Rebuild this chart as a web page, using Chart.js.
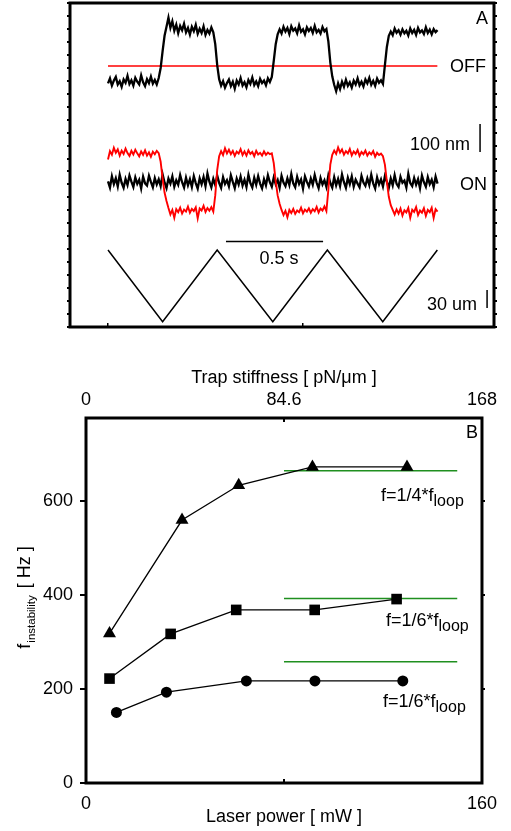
<!DOCTYPE html>
<html>
<head>
<meta charset="utf-8">
<title>Feedback instability</title>
<script src="https://cdn.jsdelivr.net/npm/chart.js@4.4.1/dist/chart.umd.min.js"></script>
<style>
  html, body { margin: 0; padding: 0; background: #fff; }
  #wrap { position: relative; width: 511px; height: 831px; }
  #traces { position: absolute; left: 0; top: 0; }
  #stiffness { position: absolute; left: 0; top: 335px; }
</style>
</head>
<body>
<div id="wrap">
  <canvas id="traces" width="511" height="335"></canvas>
  <canvas id="stiffness" width="511" height="496"></canvas>
</div>
<script>
// ---------- panel A : bead traces (nm), one sample every 10 ms ----------
const SAMPLE_STEP = 0.01; // s

// feedback OFF, bead follows the stage
const offTrace = [
  870, 888, 862, 880, 893, 866, 878, 858, 884, 872,
  897, 868, 881, 862, 890, 876, 866, 899, 874, 860,
  885, 871, 894, 869, 882, 866, 889, 925, 985, 1040,
  1072, 1105, 1068, 1092, 1058, 1080, 1049, 1075, 1060, 1083,
  1052, 1068, 1044, 1072, 1056, 1079, 1047, 1065, 1050, 1074,
  1043, 1061, 1048, 1070, 1052, 1010, 935, 885, 862, 878,
  855, 871, 884, 860, 876, 851, 880, 866, 889, 862,
  874, 856, 882, 868, 891, 864, 877, 860, 886, 871,
  880, 863, 888, 875, 893, 950, 1010, 1045, 1063, 1048,
  1072, 1055, 1068, 1046, 1074, 1058, 1066, 1049, 1077, 1054,
  1063, 1045, 1070, 1057, 1068, 1050, 1075, 1052, 1061, 1048,
  1071, 1056, 1064, 1020, 945, 895, 865, 842, 870, 850,
  876, 858, 883, 861, 874, 855, 880, 866, 888, 863,
  876, 859, 884, 870, 890, 865, 879, 861, 887, 872,
  881, 868, 935, 1000, 1040, 1055, 1042, 1066, 1051, 1060,
  1044, 1063, 1049, 1058, 1041, 1066, 1050, 1061, 1043, 1068,
  1052, 1059, 1046, 1070, 1050, 1062, 1045, 1064, 1053, 1060
];
const offRefTimes = [0, 1.689];
const offRef = [932, 932];

// feedback ON: bead (black) and correction signal (red)
const onTrace = [
  520, 498, 538, 510, 531, 502, 544, 515, 497, 529,
  507, 541, 519, 500, 534, 511, 526, 495, 537, 513,
  505, 540, 518, 499, 532, 509, 527, 503, 545, 516,
  496, 530, 512, 538, 501, 524, 508, 543, 517, 498,
  533, 506, 528, 500, 539, 514, 494, 531, 510, 536,
  503, 548, 519, 499, 529, 507, 541, 515, 497, 535,
  511, 524, 502, 542, 518, 496, 530, 509, 537, 505,
  526, 500, 544, 514, 498, 533, 508, 539, 512, 495,
  528, 506, 542, 517, 501, 534, 510, 525, 497, 540,
  516, 503, 531, 507, 546, 513, 499, 536, 511, 527,
  494, 538, 518, 502, 530, 508, 543, 515, 496, 532,
  509, 524, 500, 541, 514, 498, 535, 506, 529, 503,
  545, 517, 497, 533, 510, 538, 501, 526, 512, 499,
  540, 516, 504, 531, 507, 544, 513, 495, 534, 509,
  527, 502, 539, 518, 497, 530, 506, 542, 511, 500,
  536, 515, 523, 498, 547, 514, 503, 532, 508, 528,
  496, 541, 517, 501, 535, 510, 526, 499, 537, 512
];
const onSignal = [
  598, 628, 615, 640, 622, 634, 612, 630, 618, 637,
  621, 611, 629, 616, 633, 620, 609, 627, 615, 631,
  612, 624, 608, 626, 617, 629, 621, 590, 530, 480,
  450, 425, 402, 418, 390, 421, 410, 426, 405, 419,
  412, 430, 408, 422, 414, 427, 388, 423, 416, 433,
  411, 425, 415, 428, 412, 470, 560, 610, 628, 614,
  638, 620, 633, 617, 629, 611, 626, 619, 635, 614,
  627, 612, 631, 618, 625, 610, 629, 616, 622, 612,
  627, 615, 623, 617, 620, 585, 520, 470, 440, 418,
  400, 415, 392, 418, 407, 422, 404, 416, 410, 426,
  406, 419, 412, 424, 408, 421, 413, 429, 409, 423,
  416, 431, 414, 490, 580, 615, 630, 618, 641, 623,
  634, 615, 628, 620, 636, 613, 627, 618, 632, 611,
  625, 617, 630, 612, 624, 616, 628, 608, 622, 614,
  619, 610, 580, 520, 465, 435, 418, 402, 420, 405,
  423, 398, 417, 409, 425, 390, 419, 411, 428, 400,
  416, 408, 424, 397, 418, 410, 426, 389, 421, 412
];

// stage drive (triangle wave)
const stageTimes = [0, 0.28, 0.56, 0.845, 1.125, 1.409, 1.689];
const stagePos = [275, 19, 275, 19, 275, 19, 275];

// scale bars
const timeBarT = [0.605, 1.103];
const timeBarY = [305, 305];
const nmBarT = [1.908, 1.908];
const nmBarY = [625, 725];
const umBarT = [1.944, 1.944];
const umBarY = [68, 132];
const timeTicks = [0, 1];

// ---------- panel B : instability frequency vs laser power ----------
const powerTri = [9.5, 38.8, 61.7, 91.5, 129.7];
const freqTri = [318, 559, 633, 672, 672];
const powerSq = [9.5, 34.2, 60.7, 92.4, 125.5];
const freqSq = [222, 317, 368, 368, 391];
const powerCirc = [12.3, 32.5, 64.8, 92.5, 128];
const freqCirc = [150, 193, 217, 217, 217];
const loopPower = [80, 150];
const loopFreqs = [664, 392, 258];

const powerTicks = [0, 80, 160];
const powerTickLabels = ['0', '', '160'];
const stiffnessTickLabels = ['0', '84.6', '168'];
const freqTicks = [0, 200, 400, 600];
const freqRightTicks = [200, 400, 600];

const FONT = '"Liberation Sans", Arial, Helvetica, sans-serif';
const pts = (xs, ys) => ys.map((y, i) => ({ x: xs[i], y }));
const sampled = ys => ys.map((y, i) => ({ x: i * SAMPLE_STEP, y }));

// thick box around the plot area
const frame = {
  id: 'frame',
  afterDraw(chart) {
    const { ctx, chartArea: a } = chart;
    ctx.save();
    ctx.lineWidth = 3;
    ctx.strokeStyle = '#000';
    ctx.strokeRect(a.left, a.top, a.right - a.left, a.bottom - a.top);
    ctx.restore();
  }
};

// free text placed in data coordinates, with optional subscript
const textLabels = {
  id: 'textLabels',
  afterDatasetsDraw(chart, args, opts) {
    const { ctx, scales } = chart;
    ctx.save();
    ctx.fillStyle = '#000';
    ctx.textBaseline = 'alphabetic';
    for (const l of opts.items) {
      const px = scales.x.getPixelForValue(l.x);
      const py = scales.y.getPixelForValue(l.y);
      ctx.font = (l.size || 18) + 'px ' + FONT;
      ctx.textAlign = l.align || 'left';
      ctx.fillText(l.text, px, py);
      if (l.sub) {
        const w = ctx.measureText(l.text).width;
        ctx.font = '16px ' + FONT;
        ctx.textAlign = 'left';
        ctx.fillText(l.sub, px + w, py + 5);
      }
    }
    ctx.restore();
  }
};

// rotated y title with subscript
const yTitle = {
  id: 'yTitle',
  afterDraw(chart) {
    const { ctx, chartArea: a } = chart;
    ctx.save();
    ctx.fillStyle = '#000';
    ctx.textBaseline = 'alphabetic';
    ctx.textAlign = 'left';
    ctx.font = '18px ' + FONT;
    const wf = ctx.measureText('f').width;
    const wh = ctx.measureText('[ Hz ]').width;
    ctx.font = '11.5px ' + FONT;
    const ws = ctx.measureText('instability').width;
    const total = wf + 1 + ws + 7 + wh;
    ctx.translate(30, (a.top + a.bottom) / 2 - 3 + total / 2);
    ctx.rotate(-Math.PI / 2);
    ctx.font = '18px ' + FONT;
    ctx.fillText('f', 0, 0);
    ctx.font = '11.5px ' + FONT;
    ctx.fillText('instability', wf + 1, 5);
    ctx.font = '18px ' + FONT;
    ctx.fillText('[ Hz ]', wf + 1 + ws + 7, 0);
    ctx.restore();
  }
};

const lineSet = (label, data, color, width) => ({
  label, data, borderColor: color, backgroundColor: color,
  borderWidth: width, pointRadius: 0, tension: 0, fill: false
});

// ---------- panel A chart ----------
new Chart(document.getElementById('traces'), {
  type: 'line',
  data: {
    datasets: [
      lineSet('ON signal', sampled(onSignal), '#ff0000', 1.9),
      lineSet('ON bead', sampled(onTrace), '#000', 2.3),
      lineSet('OFF bead', sampled(offTrace), '#000', 2.3),
      lineSet('OFF reference', pts(offRefTimes, offRef), '#ff0000', 1.5),
      lineSet('stage', pts(stageTimes, stagePos), '#000', 1.5),
      lineSet('0.5 s', pts(timeBarT, timeBarY), '#000', 1.5),
      lineSet('100 nm', pts(nmBarT, nmBarY), '#000', 1.5),
      lineSet('30 um', pts(umBarT, umBarY), '#000', 1.5)
    ]
  },
  options: {
    responsive: false,
    animation: false,
    devicePixelRatio: 1,
    layout: { padding: { left: 67, right: 14, top: 3, bottom: 0 } },
    plugins: {
      legend: { display: false },
      tooltip: { enabled: false },
      textLabels: {
        items: [
          { text: 'A', x: 1.949, y: 1082, align: 'right' },
          { text: 'OFF', x: 1.754, y: 911 },
          { text: '100 nm', x: 1.549, y: 632 },
          { text: 'ON', x: 1.805, y: 489 },
          { text: '0.5 s', x: 0.877, y: 225, align: 'center' },
          { text: '30 um', x: 1.636, y: 61 }
        ]
      }
    },
    scales: {
      x: {
        type: 'linear', min: -0.1949, max: 1.9795,
        afterBuildTicks: s => { s.ticks = timeTicks.map(v => ({ value: v })); },
        afterFit: s => { s.height = 8; },
        ticks: { display: false },
        border: { display: false },
        grid: { drawOnChartArea: false, tickLength: -4, color: '#000', lineWidth: 1.5 }
      },
      y: {
        min: 0, max: 1157,
        afterFit: s => { s.width = 3; },
        ticks: { display: false, stepSize: 46.28 },
        border: { display: false },
        grid: { drawOnChartArea: false, tickLength: 3, color: '#000', lineWidth: 2 }
      },
      y2: {
        position: 'right', min: 0, max: 1157,
        afterFit: s => { s.width = 3; },
        ticks: { display: false, stepSize: 46.28 },
        border: { display: false },
        grid: { drawOnChartArea: false, tickLength: 3, color: '#000', lineWidth: 2 }
      }
    }
  },
  plugins: [frame, textLabels]
});

// ---------- panel B chart ----------
const markerSet = (label, xs, ys, style, radius) => ({
  label, data: pts(xs, ys), borderColor: '#000', backgroundColor: '#000',
  borderWidth: 1.3, pointStyle: style, pointRadius: radius,
  pointBackgroundColor: '#000', pointBorderWidth: 0, tension: 0
});

const tickFont = { family: FONT, size: 18 };

new Chart(document.getElementById('stiffness'), {
  type: 'line',
  data: {
    datasets: [
      markerSet('triangles', powerTri, freqTri, 'triangle', 7.5),
      markerSet('squares', powerSq, freqSq, 'rect', 7.5),
      markerSet('circles', powerCirc, freqCirc, 'circle', 5.5),
      ...loopFreqs.map((f, i) => lineSet('loop ' + i, pts(loopPower, [f, f]), '#1f8f1f', 1.5))
    ]
  },
  options: {
    responsive: false,
    animation: false,
    devicePixelRatio: 1,
    layout: { padding: { left: 0, right: 14, top: 0, bottom: 0 } },
    plugins: {
      legend: { display: false },
      tooltip: { enabled: false },
      textLabels: {
        items: [
          { text: 'B', x: 158.4, y: 733, align: 'right' },
          { text: 'f=1/4*f', sub: 'loop', x: 119.2, y: 599 },
          { text: 'f=1/6*f', sub: 'loop', x: 121.2, y: 334 },
          { text: 'f=1/6*f', sub: 'loop', x: 120, y: 161 }
        ]
      }
    },
    scales: {
      x: {
        type: 'linear', position: 'bottom', min: 0, max: 160,
        afterBuildTicks: s => { s.ticks = powerTicks.map(v => ({ value: v })); },
        afterFit: s => { s.height = 48; },
        ticks: { callback: (v, i) => powerTickLabels[i], font: tickFont, color: '#000',
                 padding: 14, maxRotation: 0, autoSkip: false },
        border: { display: false },
        grid: { drawOnChartArea: false, tickLength: -4, color: '#000', lineWidth: 2 },
        title: { display: true, text: 'Laser power [ mW ]', font: tickFont, color: '#000',
                 padding: { top: 0, bottom: 3 } }
      },
      x2: {
        type: 'linear', position: 'top', min: 0, max: 160,
        afterBuildTicks: s => { s.ticks = powerTicks.map(v => ({ value: v })); },
        afterFit: s => { s.height = 83; },
        ticks: { callback: (v, i) => stiffnessTickLabels[i], font: tickFont, color: '#000',
                 padding: 11, maxRotation: 0, autoSkip: false },
        border: { display: false },
        grid: { drawOnChartArea: false, tickLength: -4, color: '#000', lineWidth: 2 },
        title: { display: true, text: 'Trap stiffness [ pN/μm ]', font: tickFont, color: '#000',
                 padding: { top: 32, bottom: 0 } }
      },
      y: {
        min: 0, max: 776,
        afterBuildTicks: s => { s.ticks = freqTicks.map(v => ({ value: v })); },
        afterFit: s => { s.width = 86; },
        ticks: { font: tickFont, color: '#000', padding: 7 },
        border: { display: false },
        grid: { drawOnChartArea: false, tickLength: 6, color: '#000', lineWidth: 2 }
      },
      y2: {
        position: 'right', min: 0, max: 776,
        afterBuildTicks: s => { s.ticks = freqRightTicks.map(v => ({ value: v })); },
        afterFit: s => { s.width = 3; },
        ticks: { display: false },
        border: { display: false },
        grid: { drawOnChartArea: false, tickLength: 3, color: '#000', lineWidth: 2 }
      }
    }
  },
  plugins: [frame, textLabels, yTitle]
});
</script>
</body>
</html>
